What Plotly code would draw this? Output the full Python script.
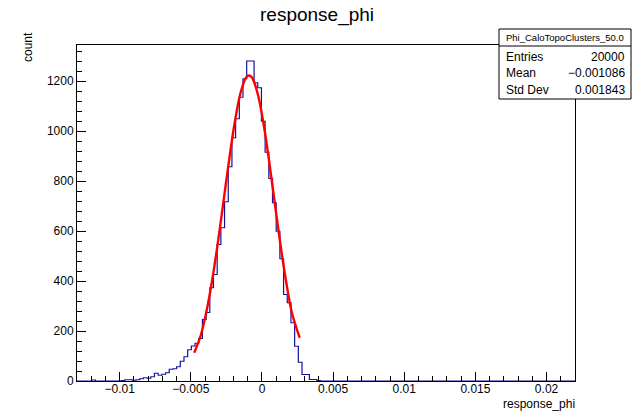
import plotly.graph_objects as go

# ---------------- data ----------------
hist_lo = -0.013
hist_hi = 0.022
n_bins = 135
# bin contents (bins 0..65, the rest are empty)
counts = [0, 0, 0, 0, 4, 0, 0, 0, 0, 0, 0, 0, 2, 5, 5, 3, 5, 9, 13, 11,
          17, 31, 23, 27, 33, 47, 49, 57, 79, 97, 125, 140, 151, 170, 246, 274, 373, 426, 546, 613,
          717, 857, 973, 1049, 1135, 1209, 1280, 1280, 1193, 1173, 1039, 915, 810, 713, 599, 489, 346, 313, 233, 139,
          75, 26, 26, 6, 6, 2]

fit_x = [-0.00476, -0.0043, -0.0039, -0.0035, -0.0031, -0.0027, -0.0023, -0.0019, -0.0015, -0.0011,
         -0.0009, -0.0007, -0.0003, 0.0001, 0.0005, 0.0009, 0.0013, 0.0017, 0.0021, 0.00265]
fit_y = [113, 183, 279, 403, 553, 720, 888, 1039, 1154, 1215,
         1222, 1214, 1149, 1033, 880, 711, 545, 397, 274, 173]

x_tickvals = [-0.01, -0.005, 0, 0.005, 0.01, 0.015, 0.02]
x_ticktext = ["\u22120.01", "\u22120.005", "0", "0.005", "0.01", "0.015", "0.02"]

stat_title = "Phi_CaloTopoClusters_50.0"
stat_labels = ["Entries", "Mean", "Std Dev"]
stat_values = ["20000", "\u22120.001086", "0.001843"]

title_text = "response_phi"
x_title = "response_phi"
y_title = "count"

# ---------------- build ----------------
bw = (hist_hi - hist_lo) / n_bins
full_counts = counts + [0] * (n_bins - len(counts))
edges = [hist_lo + i * bw for i in range(n_bins + 1)]
step_x = edges
step_y = full_counts + [full_counts[-1]]

FONT = "Liberation Sans, Arial, Helvetica, sans-serif"

fig = go.Figure()
fig.add_trace(go.Scatter(x=step_x, y=step_y, mode="lines",
                         line=dict(shape="hv", color="#13139a", width=1.2),
                         hoverinfo="skip", showlegend=False))
fig.add_trace(go.Scatter(x=fit_x, y=fit_y, mode="lines",
                         line=dict(shape="spline", color="#ff0000", width=2.4),
                         hoverinfo="skip", showlegend=False))

L, R, T, B = 77, 59, 45, 31
W, H = 634, 412
pw, ph = W - L - R, H - T - B


def px(xp):
    return (xp - L) / pw


def py(yp):
    return (H - B - yp) / ph


ymax = 1344

fig.update_layout(
    width=W, height=H,
    margin=dict(l=L, r=R, t=T, b=B, pad=0),
    paper_bgcolor="white", plot_bgcolor="white",
    font=dict(family=FONT, size=12, color="black"),
    xaxis=dict(range=[hist_lo, hist_hi], showgrid=False, zeroline=False,
               showline=True, mirror=True, linecolor="black", linewidth=1,
               ticks="inside", ticklen=9, tickcolor="black", tickwidth=1,
               tickmode="array", tickvals=x_tickvals, ticktext=x_ticktext,
               tickfont=dict(size=12, family=FONT), ticklabelstandoff=-3,
               minor=dict(tickmode="linear", tick0=0, dtick=0.001, ticks="inside",
                          ticklen=5, tickcolor="black", tickwidth=1, showgrid=False)),
    yaxis=dict(range=[0, ymax], showgrid=False, zeroline=False,
               showline=True, mirror=True, linecolor="black", linewidth=1,
               ticks="inside", ticklen=9, tickcolor="black", tickwidth=1,
               tickmode="linear", tick0=0, dtick=200,
               tickfont=dict(size=12, family=FONT),
               minor=dict(tickmode="linear", tick0=0, dtick=40, ticks="inside",
                          ticklen=5, tickcolor="black", tickwidth=1, showgrid=False)),
)

shapes = [
    dict(type="rect", xref="paper", yref="paper",
         x0=px(499), x1=px(631), y0=py(99), y1=py(29),
         line=dict(color="black", width=1), fillcolor="white", layer="above"),
    dict(type="line", xref="paper", yref="paper",
         x0=px(499), x1=px(631), y0=py(46), y1=py(46),
         line=dict(color="black", width=1), layer="above"),
]
fig.update_layout(shapes=shapes)

ann = [
    dict(text=title_text, x=px(317), y=py(15), xref="paper", yref="paper",
         xanchor="center", yanchor="middle", showarrow=False,
         font=dict(size=19, family=FONT)),
    dict(text=y_title, x=px(28), y=py(47), xref="paper", yref="paper",
         xanchor="center", yanchor="middle", showarrow=False, textangle=-90,
         font=dict(size=12, family=FONT)),
    dict(text=x_title, x=px(577), y=py(413), xref="paper", yref="paper",
         xanchor="right", yanchor="bottom", showarrow=False,
         font=dict(size=12, family=FONT)),
    dict(text=stat_title, x=px(565), y=py(37.5), xref="paper", yref="paper",
         xanchor="center", yanchor="middle", showarrow=False,
         font=dict(size=9.5, family=FONT)),
]
row_y = [57, 73, 90]
for lab, val, yy in zip(stat_labels, stat_values, row_y):
    ann.append(dict(text=lab, x=px(504), y=py(yy), xref="paper", yref="paper",
                    xanchor="left", yanchor="middle", showarrow=False,
                    font=dict(size=12, family=FONT)))
    ann.append(dict(text=val, x=px(627), y=py(yy), xref="paper", yref="paper",
                    xanchor="right", yanchor="middle", showarrow=False,
                    font=dict(size=12, family=FONT)))
fig.update_layout(annotations=ann)

fig.write_html("out.html")
